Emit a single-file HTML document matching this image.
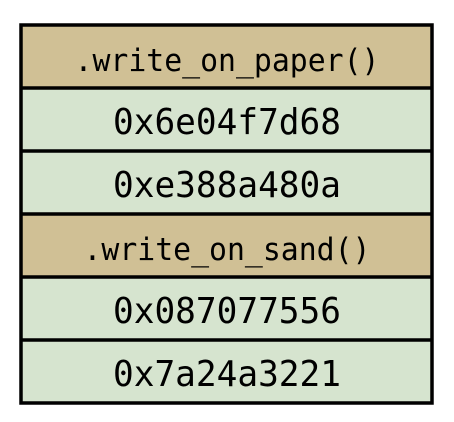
<!DOCTYPE html>
<html><head><style>body{margin:0;background:#fff}svg{display:block}</style></head><body>
<svg width="454" height="422" xmlns="http://www.w3.org/2000/svg" font-family="DejaVu Sans Mono, Liberation Mono, monospace">
<rect x="21" y="25" width="411" height="63" fill="#d0c095"/>
<rect x="21" y="88" width="411" height="126" fill="#d6e4cf"/>
<rect x="21" y="214" width="411" height="63" fill="#d0c095"/>
<rect x="21" y="277" width="411" height="126" fill="#d6e4cf"/>
<g stroke="#000" stroke-width="3.5">
<rect x="21" y="25" width="411" height="378" fill="none"/>
<line x1="21" y1="88" x2="432" y2="88"/>
<line x1="21" y1="151" x2="432" y2="151"/>
<line x1="21" y1="214" x2="432" y2="214"/>
<line x1="21" y1="277" x2="432" y2="277"/>
<line x1="21" y1="340" x2="432" y2="340"/>
</g>
<g text-anchor="middle" fill="#000">
<text x="227" y="71" font-size="31" textLength="305" lengthAdjust="spacingAndGlyphs">.write_on_paper()</text>
<text x="227" y="134" font-size="36" textLength="228" lengthAdjust="spacingAndGlyphs">0x6e04f7d68</text>
<text x="227" y="197" font-size="36" textLength="228" lengthAdjust="spacingAndGlyphs">0xe388a480a</text>
<text x="227" y="260" font-size="31" textLength="287" lengthAdjust="spacingAndGlyphs">.write_on_sand()</text>
<text x="227" y="323" font-size="36" textLength="228" lengthAdjust="spacingAndGlyphs">0x087077556</text>
<text x="227" y="386" font-size="36" textLength="228" lengthAdjust="spacingAndGlyphs">0x7a24a3221</text>
</g>
</svg>
</body></html>
